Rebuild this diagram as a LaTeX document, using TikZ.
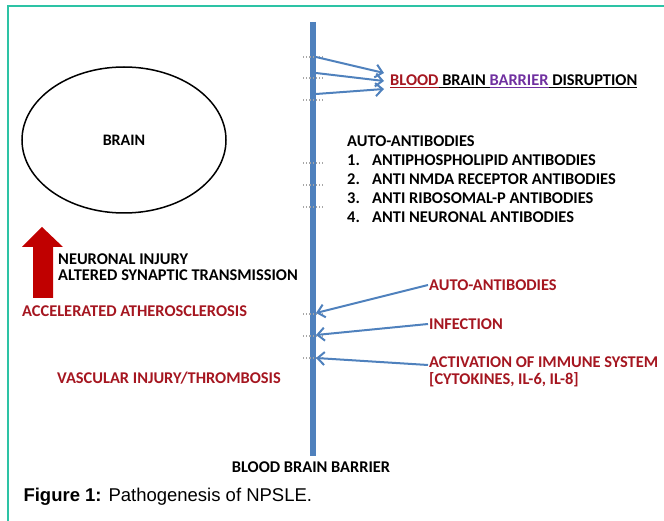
\documentclass[tikz,border=0pt]{standalone}
\usepackage{fontspec}
\setmainfont{Carlito}
\newfontfamily\captionfont{Liberation Sans}
\usepackage{tikz}
\usetikzlibrary{shapes.geometric,positioning,arrows.meta}
\definecolor{barblue}{RGB}{79,129,189}
\definecolor{darkred}{RGB}{165,22,32}
\definecolor{arrowred}{RGB}{192,0,0}
\definecolor{barrierpurple}{RGB}{112,48,160}
\definecolor{frameteal}{RGB}{45,195,165}
\tikzset{text style/.style={
		anchor=west,
		inner sep=1pt,
		text=black,
		font=\bfseries\fontsize{16.4}{19}\selectfont,
	},
	cause style/.style={
		text style,
		text=darkred,
	},
	brain style/.style={
		draw=black,
		line width=1.5pt,
		ellipse,
		minimum width=204pt,
		minimum height=146pt,
		font=\bfseries\fontsize{16}{19}\selectfont,
	},
	bar style/.style={
		draw=barblue,
		line width=6pt,
	},
	link style/.style={
		draw=barblue,
		line width=2pt,
		-{Straight Barb[length=7pt,width=13pt]},
	},
	mark style/.style={
		draw=gray!70,
		dotted,
		line width=1.2pt,
	}
}

\begin{document}
\begin{tikzpicture}[x=1pt,y=1pt]
	\useasboundingbox (0,0) rectangle (664,-521);
	\draw[frameteal, line width=1.2pt] (8,-521) -- (8,-6) -- (664,-6);
	
	% the barrier
	\coordinate (bartop) at (313,-22);
	\coordinate (barbot) at (313,-456);
	\node[text style, anchor=center] (bbb) at (311,-467) {BLOOD BRAIN BARRIER};
	\draw[bar style] (bartop) -- (barbot);
	\foreach \y in {57,78,100,163,185,207,314,336,358}
	\draw[mark style] (303,-\y) -- (324,-\y);
	
	\node[brain style] (brain) at (124,-140) {\raisebox{-5pt}{BRAIN}};
	
	% red arrow
	\fill[arrowred] (33,-298) -- (33,-247) -- (22,-247) -- (42,-227)
	-- (63,-247) -- (53,-247) -- (53,-298) -- cycle;
	\node[text style] (neuro) at (57,-259) {NEURONAL INJURY};
	\node[text style] (synaptic) at ([yshift=-16pt]neuro.west) {ALTERED SYNAPTIC TRANSMISSION};
	\node[cause style] (athero) at (21,-311) {ACCELERATED ATHEROSCLEROSIS};
	\node[cause style] (vascular) at (56,-378) {VASCULAR INJURY/THROMBOSIS};
	
	% disruption
	\node[text style] (bbbd) at (389,-81) {\textcolor{darkred}{\underline{BLOOD}}\underline{\ BRAIN\ }\textcolor{barrierpurple}{\underline{BARRIER}}\underline{\ DISRUPTION}};
	\coordinate (t1) at (316,-57);
	\coordinate (t2) at (316,-73);
	\coordinate (t3) at (316,-94);
	\draw[link style] (t1) -- ([xshift=-5pt,yshift=8pt]bbbd.west);
	\draw[link style] (t2) -- ([xshift=-5pt]bbbd.west);
	\draw[link style] (t3) -- ([xshift=-5pt,yshift=-8pt]bbbd.west);
	
	% antibodies list
	\node[text style] (ab0) at (346,-141) {AUTO-ANTIBODIES};
	\node[text style] (ab1) at ([yshift=-19pt]ab0.west) {\makebox[25pt][l]{1.}ANTIPHOSPHOLIPID ANTIBODIES};
	\node[text style] (ab2) at ([yshift=-19pt]ab1.west) {\makebox[25pt][l]{2.}ANTI NMDA RECEPTOR ANTIBODIES};
	\node[text style] (ab3) at ([yshift=-19pt]ab2.west) {\makebox[25pt][l]{3.}ANTI RIBOSOMAL-P ANTIBODIES};
	\node[text style] (ab4) at ([yshift=-19pt]ab3.west) {\makebox[25pt][l]{4.}ANTI NEURONAL ANTIBODIES};
	
	% causes
	\node[cause style] (autoab) at (428,-285) {AUTO-ANTIBODIES};
	\node[cause style] (infection) at (428,-324) {INFECTION};
	\node[cause style] (immune) at (428,-362) {ACTIVATION OF IMMUNE SYSTEM};
	\node[cause style] (cytokines) at ([yshift=-18pt]immune.west) {[CYTOKINES, IL-6, IL-8]};
	\coordinate (b1) at (316,-313);
	\coordinate (b2) at (316,-335);
	\coordinate (b3) at (316,-358);
	\draw[link style] (autoab.west) -- (b1);
	\draw[link style] (infection.west) -- (b2);
	\draw[link style] ([yshift=-3pt]immune.west) -- (b3);
	
	\node[anchor=west, font=\captionfont\fontsize{18.5}{21}\selectfont] (caption) at (20,-497) {\textbf{Figure 1:} Pathogenesis of NPSLE.};
\end{tikzpicture}
\end{document}
